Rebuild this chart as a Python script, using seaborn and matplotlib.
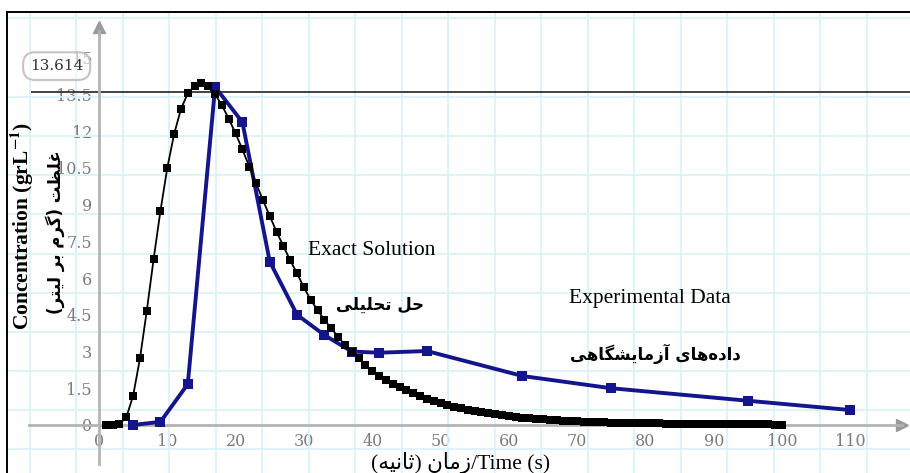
import matplotlib
matplotlib.use("Agg")
import matplotlib.pyplot as plt
from matplotlib.lines import Line2D
import numpy as np
import pandas as pd
import seaborn as sns

# ---------------- data ----------------
exact_t = list(range(1, 101))
exact_c = [0.0, 0.01, 0.06, 0.31, 1.2, 2.72, 4.67, 6.78, 8.75, 10.5,
           11.88, 12.9, 13.54, 13.84, 13.95, 13.85, 13.5, 13.05, 12.5, 11.9,
           11.25, 10.55, 9.86, 9.18, 8.53, 7.89, 7.3, 6.72, 6.19, 5.62,
           5.1, 4.69, 4.29, 3.95, 3.6, 3.27, 2.99, 2.72, 2.45, 2.2,
           1.99, 1.82, 1.67, 1.54, 1.41, 1.29, 1.18, 1.08, 0.99, 0.9,
           0.82, 0.75, 0.68, 0.62, 0.57, 0.52, 0.47, 0.43, 0.39, 0.36,
           0.33, 0.3, 0.27, 0.25, 0.23, 0.21, 0.19, 0.17, 0.16, 0.15,
           0.14, 0.13, 0.12, 0.11, 0.1, 0.094, 0.088, 0.082, 0.076, 0.07,
           0.066, 0.062, 0.058, 0.054, 0.05, 0.047, 0.044, 0.041, 0.038, 0.035,
           0.033, 0.031, 0.029, 0.027, 0.025, 0.023, 0.022, 0.021, 0.019, 0.018]

exp_t = [5, 9, 13, 17, 21, 25, 29, 33, 37, 41, 48, 62, 75, 95, 110]
exp_c = [0.0, 0.13, 1.67, 13.8, 12.36, 6.67, 4.5, 3.67, 3.0, 2.95, 3.02, 2.0, 1.5, 0.99, 0.61]

marked_value = 13.614

x_ticks = [-10, 0, 10, 20, 30, 40, 50, 60, 70, 80, 90, 100, 110]
x_tick_labels = ["", "0", "10", "20", "30", "40", "50", "60", "70", "80", "90", "100", "110"]
y_ticks = [-1.5, 0, 1.5, 3, 4.5, 6, 7.5, 9, 10.5, 12, 13.5, 15]
y_tick_labels = ["", "0", "1.5", "3", "4.5", "6", "7.5", "9", "10.5", "12", "13.5", "15"]

label_exact_en = "Exact Solution"
label_exact_fa = "حل تحلیلی"
label_exp_en = "Experimental Data"
label_exp_fa = "داده\u200cهای آزمایشگاهی"
xlabel_fa = "زمان (ثانیه)"
xlabel_en = "/Time (s)"
ylabel_en = r"Concentration (grL$^{\mathbf{-1}}$)"
ylabel_fa = "غلظت (گرم بر لیتر)"

# ------------- Persian shaping (matplotlib has no bidi/shaping) -------------
FORMS = {
    'ا': ('\uFE8D', '\uFE8E', None, None),
    'آ': ('\uFE81', '\uFE82', None, None),
    'ب': ('\uFE8F', '\uFE90', '\uFE91', '\uFE92'),
    'ت': ('\uFE95', '\uFE96', '\uFE97', '\uFE98'),
    'ث': ('\uFE99', '\uFE9A', '\uFE9B', '\uFE9C'),
    'ح': ('\uFEA1', '\uFEA2', '\uFEA3', '\uFEA4'),
    'د': ('\uFEA9', '\uFEAA', None, None),
    'ر': ('\uFEAD', '\uFEAE', None, None),
    'ز': ('\uFEAF', '\uFEB0', None, None),
    'ش': ('\uFEB5', '\uFEB6', '\uFEB7', '\uFEB8'),
    'ظ': ('\uFEC5', '\uFEC6', '\uFEC7', '\uFEC8'),
    'غ': ('\uFECD', '\uFECE', '\uFECF', '\uFED0'),
    'گ': ('\uFB92', '\uFB93', '\uFB94', '\uFB95'),
    'ل': ('\uFEDD', '\uFEDE', '\uFEDF', '\uFEE0'),
    'م': ('\uFEE1', '\uFEE2', '\uFEE3', '\uFEE4'),
    'ن': ('\uFEE5', '\uFEE6', '\uFEE7', '\uFEE8'),
    'ه': ('\uFEE9', '\uFEEA', '\uFEEB', '\uFEEC'),
    'ی': ('\uFEEF', '\uFEF0', '\uFEF3', '\uFEF4'),
}


def shape(s):
    out = []
    for i, ch in enumerate(s):
        if ch == '\u200c':
            continue
        if ch not in FORMS:
            out.append(ch)
            continue
        prev = s[i - 1] if i > 0 else ''
        nxt = s[i + 1] if i + 1 < len(s) else ''
        jp = prev in FORMS and FORMS[prev][2] is not None
        jn = nxt in FORMS and FORMS[ch][2] is not None
        iso, fin, ini, med = FORMS[ch]
        out.append(med if (jp and jn) else ini if jn else fin if jp else iso)
    return ''.join(out)


def rtl(s):
    return shape(s)[::-1].translate({ord('('): ')', ord(')'): '('})


# ---------------- style ----------------
sns.set_theme(style="white")
plt.rcParams['font.family'] = ['DejaVu Serif']
plt.rcParams['mathtext.fontset'] = 'stix'

W, H = 910, 473
fig = plt.figure(figsize=(W / 100, H / 100), dpi=100)
ax = fig.add_axes([7 / W, 0, (W - 7) / W, (H - 12) / H])
ax.set_facecolor('white')

ax.set_xlim(-13.47, 118.74)
ax.set_ylim(-1.96, 16.86)

# background grid (independent of the ticks, as in the picture)
gx = [-10.13 + 6.808 * k for k in range(19)]
gy = [16.6 - 1.6 * k for k in range(12)]
ax.set_xticks(gx, minor=True)
ax.set_yticks(gy, minor=True)
ax.grid(which='minor', color='#d9f3f7', lw=1.3)
ax.grid(which='major', visible=False)
ax.tick_params(which='minor', length=0)

# axes through the origin
axis_col = '#b3b3b3'
ax.spines['right'].set_visible(False)
ax.spines['top'].set_color('black')
ax.spines['top'].set_linewidth(1.4)
ax.spines['left'].set_position(('data', 0))
ax.spines['bottom'].set_position(('data', 0))
for side in ['left', 'bottom']:
    ax.spines[side].set_color(axis_col)
    ax.spines[side].set_linewidth(2.0)
ax.spines['left'].set_bounds(-1.6, 16.1)
ax.spines['bottom'].set_bounds(-10.3, 117.5)
ax.plot([117.6], [0], marker='>', ms=8, color='#9a9a9a', clip_on=False, zorder=2)
ax.plot([0], [16.25], marker='^', ms=8, color='#9a9a9a', clip_on=False, zorder=2)

ax.set_xticks(x_ticks)
ax.set_xticklabels(x_tick_labels)
ax.set_yticks(y_ticks)
ax.set_yticklabels(y_tick_labels)
ax.tick_params(axis='both', which='major', direction='inout', length=8, width=1.2,
               color=axis_col, labelcolor='#7c7c7c', labelsize=11.5)
ax.tick_params(axis='x', pad=2)
ax.tick_params(axis='y', pad=1)

# marked horizontal line
ax.hlines(marked_value, -10, 118.74, color='#333333', lw=1.3, zorder=2)
ax.text(-6.2, 14.65, f"{marked_value:.3f}", ha='center', va='center', fontsize=11,
        family='DejaVu Serif', color='#333333', zorder=6,
        bbox=dict(boxstyle='round,pad=0.45,rounding_size=0.8', fc=(1, 1, 1, 0.55),
                  ec='#c4c4c4', lw=1.5))

# series
sns.lineplot(x=exp_t, y=exp_c, ax=ax, color='#14148c', lw=2.8, marker='s', markersize=7.5,
             markeredgewidth=0, zorder=3, sort=False)
sns.lineplot(x=exact_t, y=exact_c, ax=ax, color='black', lw=1.3, marker='s', markersize=6,
             markeredgewidth=0, zorder=4, sort=False)

# annotations
serif = ['Liberation Serif', 'DejaVu Sans']
ax.text(39.97, 7.14, label_exact_en, ha='center', va='center', fontsize=15.5, family=serif,
        color='black', zorder=7)
ax.text(41.1, 4.9, rtl(label_exact_fa), ha='center', va='center', fontsize=12,
        family='DejaVu Sans', fontweight='bold', color='black', zorder=7)
ax.text(80.7, 5.18, label_exp_en, ha='center', va='center', fontsize=15.5, family=serif,
        color='black', zorder=7)
ax.text(81.4, 2.9, rtl(label_exp_fa), ha='center', va='center', fontsize=12,
        family='DejaVu Sans', fontweight='bold', color='black', zorder=7)

ax.text(52.9, -1.55, rtl(xlabel_fa) + xlabel_en, ha='center', va='center', fontsize=15.5,
        family=serif, color='black', zorder=7)
ax.text(-11.35, 8.12, ylabel_en, ha='center', va='center', rotation=90, fontsize=15.5,
        family=serif, fontweight='bold', color='black', zorder=7)
ax.text(-6.44, 7.88, rtl(ylabel_fa), ha='center', va='center', rotation=90, fontsize=12,
        family='DejaVu Sans', fontweight='bold', color='black', zorder=7)

ax.set_xlabel("")
ax.set_ylabel("")

# left frame line
fig.add_artist(Line2D([7 / W, 7 / W], [0, (H - 12) / H], color='black', lw=1.4))

fig.savefig('out.png', dpi=100)
